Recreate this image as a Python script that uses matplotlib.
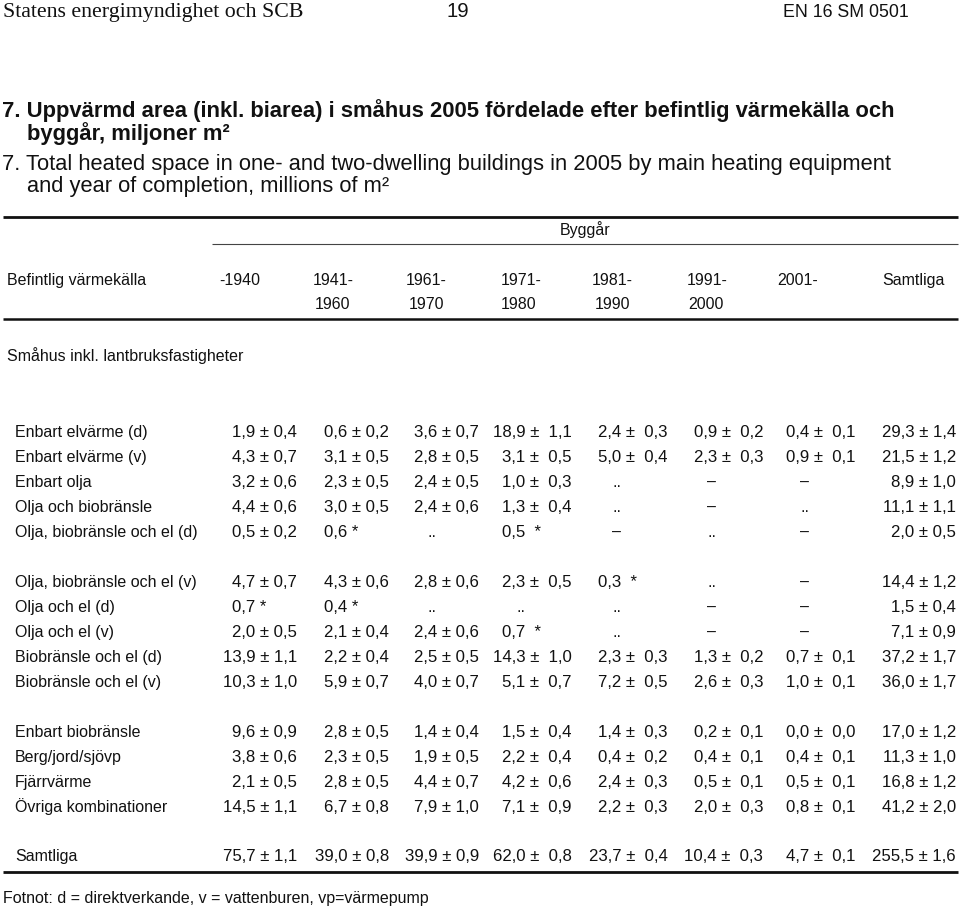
import matplotlib
matplotlib.use("Agg")
import matplotlib.pyplot as plt

# ---------------- data ----------------
header_left = "Statens energimyndighet och SCB"
page_no = "19"
doc_id = "EN 16 SM 0501"
title_sv = ["7. Uppvärmd area (inkl. biarea) i småhus 2005 fördelade efter befintlig värmekälla och",
            "byggår, miljoner m²"]
title_en = ["7. Total heated space in one- and two-dwelling buildings in 2005 by main heating equipment",
            "and year of completion, millions of m²"]
group_header = "Byggår"
row_header = "Befintlig värmekälla"
col_top = ["-1940", "1941-", "1961-", "1971-", "1981-", "1991-", "2001-", "Samtliga"]
col_bottom = ["", "1960", "1970", "1980", "1990", "2000", "", ""]
section_label = "Småhus inkl. lantbruksfastigheter"
footnote = "Fotnot: d = direktverkande, v = vattenburen, vp=värmepump"

labels = ["Enbart elvärme (d)", "Enbart elvärme (v)", "Enbart olja", "Olja och biobränsle",
          "Olja, biobränsle och el (d)",
          "Olja, biobränsle och el (v)", "Olja och el (d)", "Olja och el (v)",
          "Biobränsle och el (d)", "Biobränsle och el (v)",
          "Enbart biobränsle", "Berg/jord/sjövp", "Fjärrvärme", "Övriga kombinationer",
          "Samtliga"]

# estimates ('..' = too few observations, '–' = none)
estimates = [
    ["1,9", "0,6", "3,6", "18,9", "2,4", "0,9", "0,4", "29,3"],
    ["4,3", "3,1", "2,8", "3,1", "5,0", "2,3", "0,9", "21,5"],
    ["3,2", "2,3", "2,4", "1,0", "..", "–", "–", "8,9"],
    ["4,4", "3,0", "2,4", "1,3", "..", "–", "..", "11,1"],
    ["0,5", "0,6", "..", "0,5", "–", "..", "–", "2,0"],
    ["4,7", "4,3", "2,8", "2,3", "0,3", "..", "–", "14,4"],
    ["0,7", "0,4", "..", "..", "..", "–", "–", "1,5"],
    ["2,0", "2,1", "2,4", "0,7", "..", "–", "–", "7,1"],
    ["13,9", "2,2", "2,5", "14,3", "2,3", "1,3", "0,7", "37,2"],
    ["10,3", "5,9", "4,0", "5,1", "7,2", "2,6", "1,0", "36,0"],
    ["9,6", "2,8", "1,4", "1,5", "1,4", "0,2", "0,0", "17,0"],
    ["3,8", "2,3", "1,9", "2,2", "0,4", "0,4", "0,4", "11,3"],
    ["2,1", "2,8", "4,4", "4,2", "2,4", "0,5", "0,5", "16,8"],
    ["14,5", "6,7", "7,9", "7,1", "2,2", "2,0", "0,8", "41,2"],
    ["75,7", "39,0", "39,9", "62,0", "23,7", "10,4", "4,7", "255,5"],
]
# margins of error ('*' = uncertain estimate, '' = none)
errors = [
    ["0,4", "0,2", "0,7", "1,1", "0,3", "0,2", "0,1", "1,4"],
    ["0,7", "0,5", "0,5", "0,5", "0,4", "0,3", "0,1", "1,2"],
    ["0,6", "0,5", "0,5", "0,3", "", "", "", "1,0"],
    ["0,6", "0,5", "0,6", "0,4", "", "", "", "1,1"],
    ["0,2", "*", "", "*", "", "", "", "0,5"],
    ["0,7", "0,6", "0,6", "0,5", "*", "", "", "1,2"],
    ["*", "*", "", "", "", "", "", "0,4"],
    ["0,5", "0,4", "0,6", "*", "", "", "", "0,9"],
    ["1,1", "0,4", "0,5", "1,0", "0,3", "0,2", "0,1", "1,7"],
    ["1,0", "0,7", "0,7", "0,7", "0,5", "0,3", "0,1", "1,7"],
    ["0,9", "0,5", "0,4", "0,4", "0,3", "0,1", "0,0", "1,2"],
    ["0,6", "0,5", "0,5", "0,4", "0,2", "0,1", "0,1", "1,0"],
    ["0,5", "0,5", "0,7", "0,6", "0,3", "0,1", "0,1", "1,2"],
    ["1,1", "0,8", "1,0", "0,9", "0,3", "0,3", "0,1", "2,0"],
    ["1,1", "0,8", "0,9", "0,8", "0,4", "0,3", "0,1", "1,6"],
]

# ---------------- layout ----------------
W, H = 960, 906
fig = plt.figure(figsize=(W / 100, H / 100), dpi=100)
ax = fig.add_axes([0, 0, 1, 1])
ax.set_xlim(0, W)
ax.set_ylim(H, 0)
ax.axis("off")
renderer = fig.canvas.get_renderer()

SANS = ["Liberation Sans", "DejaVu Sans"]
SERIF = ["Liberation Serif", "DejaVu Serif"]
INK = "#111111"


def fit_text(txt, width):
    bb = txt.get_window_extent(renderer)
    txt.set_fontsize(txt.get_fontsize() * width / bb.width)
    return txt.get_fontsize()


def text_width(s, fs):
    t = ax.text(0, 0, s, family=SANS, fontsize=fs)
    w = t.get_window_extent(renderer).width
    t.remove()
    return w


# page header
t = ax.text(3, 17.5, header_left, family=SERIF, fontsize=15, color=INK, va="baseline")
fit_text(t, 302)
t = ax.text(783, 17, doc_id, family=SANS, fontsize=12, color=INK, va="baseline")
fs_id = fit_text(t, 125)
ax.text(447, 17, page_no, family=SANS, fontsize=fs_id * 1.15, color=INK, va="baseline")

# titles
t = ax.text(2, 117, title_sv[0], family=SANS, weight="bold", fontsize=14, color=INK, va="baseline")
fs_b = fit_text(t, 893)
ax.text(27, 140, title_sv[1], family=SANS, weight="bold", fontsize=fs_b, color=INK, va="baseline")
t = ax.text(2, 170, title_en[0], family=SANS, fontsize=14, color=INK, va="baseline")
fs_e = fit_text(t, 896)
ax.text(27, 192, title_en[1], family=SANS, fontsize=fs_e, color=INK, va="baseline")

# table font sizes
probe = ax.text(15, 436, labels[0], family=SANS, fontsize=11.5, color=INK, va="baseline")
FS = fit_text(probe, 133)
probe.remove()
VFS = FS * 1.05  # numbers in the source are set slightly wider

# rules
ax.plot([3, 958], [217, 217], color=INK, lw=2.0, solid_capstyle="butt")
ax.plot([212, 958], [244, 244], color="#444444", lw=0.8, solid_capstyle="butt")
ax.plot([3, 958], [319, 319], color=INK, lw=1.8, solid_capstyle="butt")
ax.plot([3, 958], [872, 872], color=INK, lw=2.0, solid_capstyle="butt")

# column headers
ax.text(585, 234.7, group_header, family=SANS, fontsize=FS, color=INK, ha="center", va="baseline")
ax.text(7, 284.7, row_header, family=SANS, fontsize=FS, color=INK, va="baseline")
top_x = [240, 333, 426, 521, 612, 707, 798, 913]
bot_x = [240, 333, 426, 519, 612, 706, 798, 913]
for x, s in zip(top_x, col_top):
    ax.text(x, 284.7, s, family=SANS, fontsize=FS, color=INK, ha="center", va="baseline")
for x, s in zip(bot_x, col_bottom):
    if s:
        ax.text(x, 308.7, s, family=SANS, fontsize=FS, color=INK, ha="center", va="baseline")
ax.text(7, 360.7, section_label, family=SANS, fontsize=FS, color=INK, va="baseline")

# body
row_centres = [431, 456, 481, 506, 531, 581, 606, 631, 656, 681, 731, 756, 781, 806, 855]
err_right = [297, 389, 479, 572, 668, 763, 856, 956]
pm_sep = [" ± ", " ± ", " ± ", " ±  ", " ±  ", " ±  ", " ±  ", " ± "]
star_sep = [" ", " ", " ", "  ", "  ", "  ", "  ", " "]
# right edge of the estimate part in each column (from the width of " ± 0,0")
est_right = [err_right[j] - text_width(pm_sep[j] + "0,0", VFS) for j in range(8)]

for yc, lab, ests, errs in zip(row_centres, labels, estimates, errors):
    yb = yc + 5.7
    ax.text(15, yb, lab, family=SANS, fontsize=FS, color=INK, va="baseline")
    for j in range(len(ests)):
        e, r = ests[j], errs[j]
        if e in ("..", "–"):
            ax.text(est_right[j] - 5, yb, e, family=SANS, fontsize=FS, color=INK,
                    ha="center", va="baseline")
        elif r == "*":
            x0 = est_right[j] - text_width(e, VFS)
            ax.text(x0, yb, e + star_sep[j] + "*", family=SANS, fontsize=VFS, color=INK,
                    ha="left", va="baseline")
        else:
            ax.text(err_right[j], yb, e + pm_sep[j] + r, family=SANS, fontsize=VFS, color=INK,
                    ha="right", va="baseline")

ax.text(3, 903, footnote, family=SANS, fontsize=FS, color=INK, va="baseline")

fig.savefig("out.png", dpi=100, facecolor="white")
